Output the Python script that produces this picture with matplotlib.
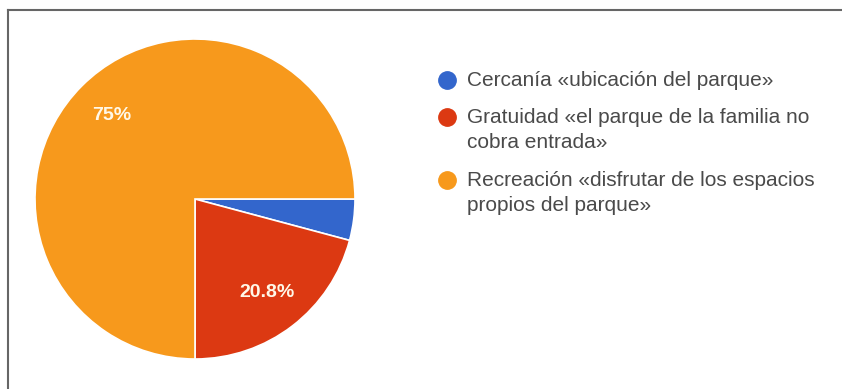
import matplotlib.pyplot as plt
from matplotlib.lines import Line2D

# response counts per reason
categories = [
    'Cercanía «ubicación del parque»',
    'Gratuidad «el parque de la familia no\ncobra entrada»',
    'Recreación «disfrutar de los espacios\npropios del parque»',
]
counts = [1, 5, 18]
colors = ['#3366cc', '#dc3912', '#f7991c']

W, H = 842, 389
fig = plt.figure(figsize=(W / 100, H / 100), dpi=100)
plt.rcParams['font.family'] = ['Liberation Sans', 'DejaVu Sans']


def fmt_pct(p):
    if p < 5:
        return ''
    return f'{p:.1f}'.rstrip('0').rstrip('.') + '%'


# pie, centre (195, 199) px, radius 160 px
cx, cy, r = 195, 199, 160
ax = fig.add_axes([(cx - r) / W, (H - cy - r) / H, 2 * r / W, 2 * r / H])
wedges, texts, autotexts = ax.pie(
    counts, colors=colors, startangle=0, counterclock=False,
    autopct=fmt_pct, pctdistance=0.74, radius=1,
    wedgeprops=dict(edgecolor='white', linewidth=1.2),
    textprops=dict(color='#fff8e8', fontsize=14, fontweight='bold'))
ax.set_xlim(-1, 1)
ax.set_ylim(-1, 1)
ax.set_aspect('equal')
ax.axis('off')

# legend drawn by hand so the wrapped entries line up
row_y = [80, 117, 180]
for y, label, c in zip(row_y, categories, colors):
    fig.add_artist(Line2D([447 / W], [1 - y / H], marker='o', markersize=12.5,
                          color=c, linestyle='none', transform=fig.transFigure))
    fig.text(467 / W, 1 - (y - 9) / H, label, fontsize=15, color='#4a4a4a',
             va='top', ha='left', linespacing=1.38)

# frame (only left and top edges visible)
fig.add_artist(Line2D([8 / W, 8 / W], [0, 1 - 10 / H], color='#666666',
                      linewidth=1.5, transform=fig.transFigure))
fig.add_artist(Line2D([8 / W, 1], [1 - 10 / H, 1 - 10 / H], color='#666666',
                      linewidth=1.5, transform=fig.transFigure))

fig.savefig('out.png', dpi=100)
